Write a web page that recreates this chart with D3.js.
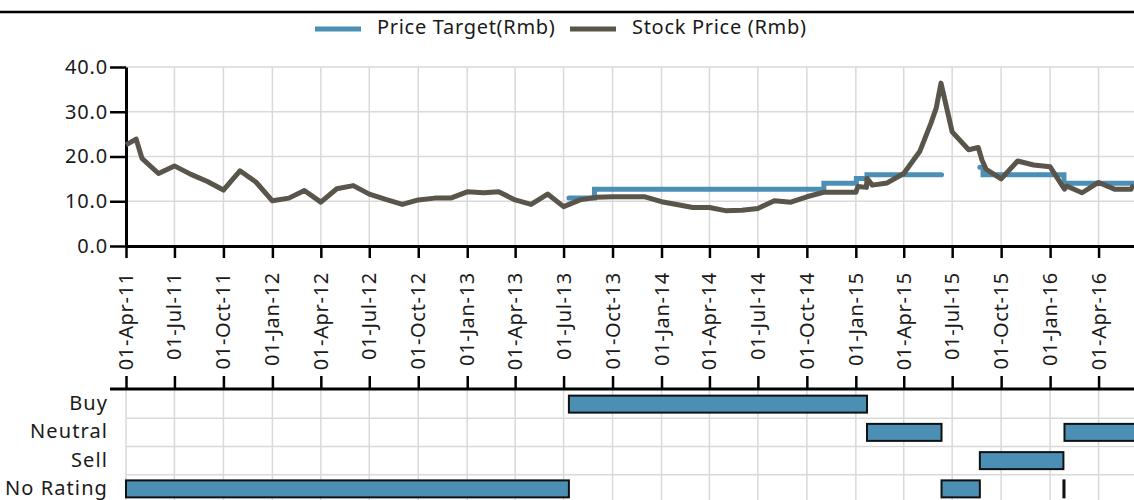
<!DOCTYPE html>
<html>
<head>
<meta charset="utf-8">
<script src="https://cdn.jsdelivr.net/npm/d3@7"></script>
<style>
body { margin: 0; background: #fff; }
text { font-family: "Noto Sans", sans-serif; fill: #1a1a1a; }
</style>
</head>
<body>
<svg id="chart" width="1134" height="500"></svg>
<script>
// stock price, roughly monthly closes (Rmb)
var stockDates = ["2011-04-01","2011-04-20","2011-05-01","2011-06-01","2011-07-01","2011-08-01","2011-09-01","2011-10-01","2011-11-01","2011-12-01",
  "2012-01-01","2012-02-01","2012-03-01","2012-04-01","2012-05-01","2012-06-01","2012-07-01","2012-08-01","2012-09-01","2012-10-01","2012-11-01","2012-12-01",
  "2013-01-01","2013-02-01","2013-03-01","2013-04-01","2013-05-01","2013-06-01","2013-07-01","2013-08-01","2013-09-01","2013-10-01","2013-11-01","2013-12-01",
  "2014-01-01","2014-02-01","2014-03-01","2014-04-01","2014-05-01","2014-06-01","2014-07-01","2014-08-01","2014-09-01","2014-10-01","2014-11-01","2014-12-01",
  "2015-01-01","2015-01-05","2015-01-21","2015-01-22","2015-02-01","2015-03-01","2015-04-01","2015-05-01","2015-05-22","2015-06-01","2015-06-10","2015-07-01",
  "2015-08-01","2015-08-19","2015-08-26","2015-09-03","2015-10-01","2015-11-01","2015-12-01",
  "2016-01-01","2016-01-28","2016-02-01","2016-03-01","2016-04-01","2016-05-01","2016-06-01","2016-06-06"];
var stockValues = [22.6,23.9,19.6,16.2,17.9,16.0,14.4,12.5,16.8,14.3,
  10.1,10.7,12.4,9.8,12.8,13.5,11.6,10.4,9.3,10.3,10.7,10.7,
  12.1,11.9,12.1,10.3,9.3,11.6,8.8,10.3,10.9,11.0,11.0,11.0,
  9.9,9.2,8.6,8.6,7.9,8.0,8.4,10.1,9.8,11.0,12.0,12.0,
  12.0,13.3,13.1,15.1,13.6,14.1,16.2,21.1,27.4,30.8,36.4,25.5,
  21.5,22.0,19.2,17.1,15.0,19.0,18.1,
  17.7,12.7,13.4,11.9,14.2,12.7,12.7,13.7];

// price target steps (null = no target)
var targetDates = ["2013-07-11","2013-08-28","2014-11-02","2015-01-02","2015-01-22","2015-06-11","2015-06-12","2015-08-22","2015-08-28","2016-01-27","2016-06-30"];
var targetValues = [10.7,12.7,14.0,15.1,15.9,15.9,null,17.6,15.9,14.0,14.0];

// rating history
var ratingRows = ["Buy","Neutral","Sell","No Rating"];
var ratingNames = ["No Rating","Buy","Neutral","No Rating","Sell","No Rating","Neutral"];
var ratingStarts = ["2011-04-01","2013-07-11","2015-01-22","2015-06-11","2015-08-22","2016-01-26","2016-01-28"];
var ratingEnds = ["2013-07-11","2015-01-22","2015-06-11","2015-08-22","2016-01-26","2016-01-28","2016-06-30"];

var tickDates = ["2011-04-01","2011-07-01","2011-10-01","2012-01-01","2012-04-01","2012-07-01","2012-10-01",
  "2013-01-01","2013-04-01","2013-07-01","2013-10-01","2014-01-01","2014-04-01","2014-07-01","2014-10-01",
  "2015-01-01","2015-04-01","2015-07-01","2015-10-01","2016-01-01","2016-04-01"];
var yTicks = [0, 10, 20, 30, 40];

var blue = "#4b8fb4";
var dark = "#5a554b";
var gridColor = "#d9d9d9";

var parse = d3.timeParse("%Y-%m-%d");
var fmt = d3.timeFormat("%d-%b-%y");
var svg = d3.select("#chart");

var x = d3.scaleTime()
  .domain([parse("2011-04-01"), parse("2016-07-01")])
  .range([126, 1147]);
var y = d3.scaleLinear().domain([0, 40]).range([246, 67]);
var row = d3.scaleBand().domain(ratingRows).range([390, 503]);

var stock = stockDates.map(function (d, i) { return { date: parse(d), value: stockValues[i] }; });
var target = targetDates.map(function (d, i) { return { date: parse(d), value: targetValues[i] }; });
var ticks = tickDates.map(parse);

// top rule
svg.append("line").attr("x1", 0).attr("x2", 1134).attr("y1", 12).attr("y2", 12)
  .attr("stroke", "#000").attr("stroke-width", 2.5);

// gridlines - price chart
svg.append("g").selectAll("line").data(yTicks).enter().append("line")
  .attr("x1", 126).attr("x2", 1134)
  .attr("y1", function (d) { return y(d); }).attr("y2", function (d) { return y(d); })
  .attr("stroke", gridColor).attr("stroke-width", 1.5);
svg.append("g").selectAll("line").data(ticks).enter().append("line")
  .attr("x1", function (d) { return x(d); }).attr("x2", function (d) { return x(d); })
  .attr("y1", 67).attr("y2", 246)
  .attr("stroke", gridColor).attr("stroke-width", 1.5);

// gridlines - rating chart
svg.append("g").selectAll("line").data(ratingRows.slice(1)).enter().append("line")
  .attr("x1", 126).attr("x2", 1134)
  .attr("y1", function (d) { return row(d); }).attr("y2", function (d) { return row(d); })
  .attr("stroke", gridColor).attr("stroke-width", 1.5);
svg.append("g").selectAll("line").data(ticks).enter().append("line")
  .attr("x1", function (d) { return x(d); }).attr("x2", function (d) { return x(d); })
  .attr("y1", 390).attr("y2", 500)
  .attr("stroke", gridColor).attr("stroke-width", 1.5);

// axes
var yAxis = svg.append("g").attr("transform", "translate(126,0)")
  .call(d3.axisLeft(y).tickValues(yTicks).tickFormat(d3.format(".1f")).tickSize(16).tickSizeOuter(0).tickPadding(2));
var xAxis = svg.append("g").attr("transform", "translate(0,246)")
  .call(d3.axisBottom(x).tickValues(ticks).tickFormat("").tickSize(12).tickSizeOuter(0));
var rAxis = svg.append("g").attr("transform", "translate(0,389)")
  .call(d3.axisTop(x).tickValues(ticks).tickFormat("").tickSize(13).tickSizeOuter(0));
[yAxis, xAxis, rAxis].forEach(function (g) {
  g.selectAll("path.domain").attr("stroke", "#000").attr("stroke-width", 3);
  g.selectAll(".tick line").attr("stroke", "#000").attr("stroke-width", 2.5);
});
yAxis.selectAll(".tick text").style("font-size", "20px").attr("fill", "#1a1a1a")
  .style("font-family", "'Noto Sans', sans-serif").style("letter-spacing", "0.8px");
rAxis.select("path.domain").attr("d", "M110,0H1134");

// rotated date labels
svg.append("g").selectAll("text").data(ticks).enter().append("text")
  .attr("transform", function (d) { return "translate(" + x(d) + ",272) rotate(-90)"; })
  .attr("text-anchor", "end").attr("dy", "0.35em")
  .style("font-size", "20px").style("letter-spacing", "0.7px")
  .text(function (d) { return fmt(d); });

// price target
var targetLine = d3.line()
  .defined(function (d) { return d.value !== null; })
  .x(function (d) { return x(d.date); })
  .y(function (d) { return y(d.value); })
  .curve(d3.curveStepAfter);
svg.append("path").datum(target).attr("d", targetLine)
  .attr("fill", "none").attr("stroke", blue).attr("stroke-width", 5)
  .attr("stroke-linecap", "round");

// stock price
var stockLine = d3.line()
  .x(function (d) { return x(d.date); })
  .y(function (d) { return y(d.value); });
svg.append("path").datum(stock).attr("d", stockLine)
  .attr("fill", "none").attr("stroke", dark).attr("stroke-width", 5)
  .attr("stroke-linejoin", "round");

// rating bars
var ratings = ratingNames.map(function (n, i) {
  return { name: n, start: parse(ratingStarts[i]), end: parse(ratingEnds[i]) };
});
var barH = 17;
svg.append("g").selectAll("rect").data(ratings).enter().append("rect")
  .attr("x", function (d) { return x(d.start); })
  .attr("width", function (d) { return Math.max(0.5, x(d.end) - x(d.start)); })
  .attr("y", function (d) { return row(d.name) + (row.bandwidth() - barH) / 2; })
  .attr("height", barH)
  .attr("fill", blue).attr("stroke", "#111").attr("stroke-width", 2);

svg.append("g").selectAll("text").data(ratingRows).enter().append("text")
  .attr("x", 108)
  .attr("y", function (d) { return row(d) + row.bandwidth() / 2; })
  .attr("dy", "0.3em").attr("text-anchor", "end")
  .style("font-size", "20px").style("letter-spacing", "1.1px")
  .text(function (d) { return d; });

// legend
var legendNames = ["Price Target(Rmb)", "Stock Price (Rmb)"];
var legendColors = [blue, dark];
var legendX = [315, 570];
var lg = svg.append("g").selectAll("g").data(legendNames).enter().append("g")
  .attr("transform", function (d, i) { return "translate(" + legendX[i] + ",29)"; });
lg.append("line").attr("x1", 0).attr("x2", 46).attr("y1", 0).attr("y2", 0)
  .attr("stroke", function (d, i) { return legendColors[i]; }).attr("stroke-width", 5);
lg.append("text").attr("x", 62).attr("dy", "0.25em")
  .style("font-size", "20px").style("letter-spacing", "0.7px")
  .text(function (d) { return d; });
</script>
</body>
</html>
